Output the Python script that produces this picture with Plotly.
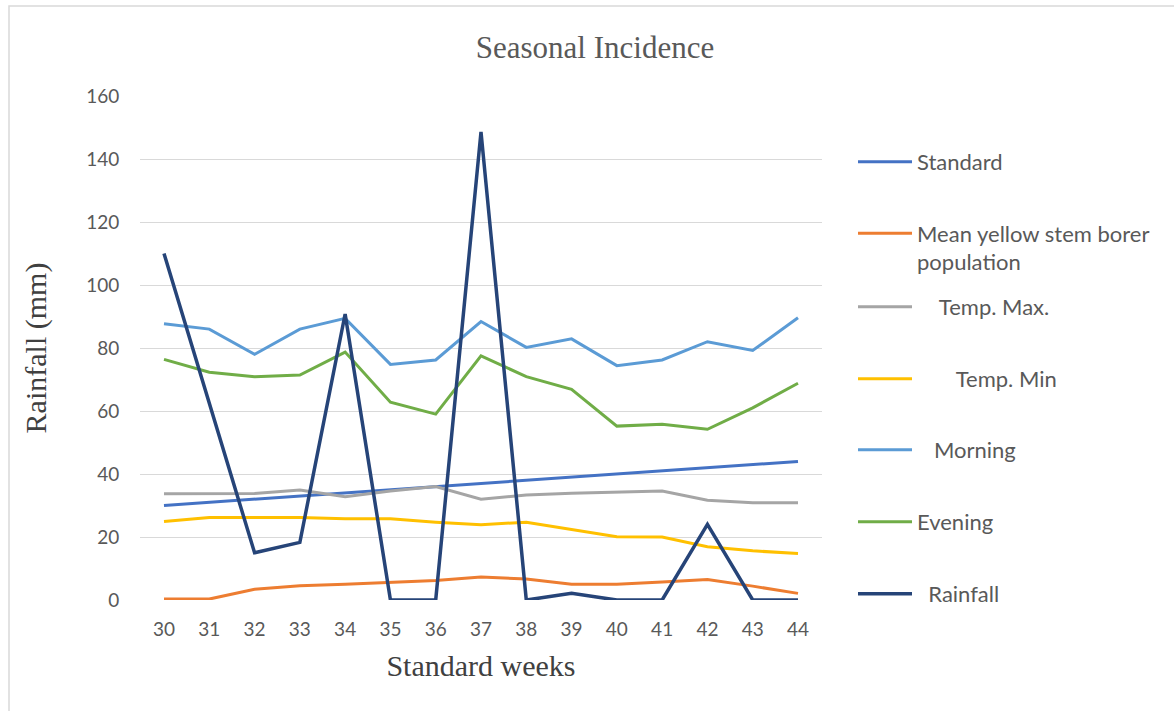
import plotly.graph_objects as go

weeks = list(range(30, 45))
standard = [30, 31, 32, 33, 34, 35, 36, 37, 38, 39, 40, 41, 42, 43, 44]
stem_borer = [0.3, 0.3, 3.4, 4.5, 5.0, 5.5, 6.2, 7.3, 6.7, 5.0, 5.0, 5.7, 6.5, 4.4, 2.1]
temp_max = [33.7, 33.7, 33.8, 34.9, 32.8, 34.6, 36.0, 32.0, 33.3, 33.9, 34.2, 34.6, 31.7, 30.9, 30.9]
temp_min = [24.9, 26.2, 26.2, 26.2, 25.8, 25.8, 24.7, 23.9, 24.7, 22.5, 20.1, 20.0, 16.9, 15.6, 14.8]
morning = [87.7, 86.0, 78.0, 86.0, 89.4, 74.8, 76.2, 88.4, 80.2, 82.9, 74.4, 76.2, 82.0, 79.2, 89.6]
evening = [76.4, 72.3, 70.9, 71.4, 78.7, 62.8, 59.0, 77.5, 70.9, 66.9, 55.2, 55.8, 54.2, 61.0, 68.8]
rainfall = [110.0, 62.5, 15.0, 18.3, 90.8, 0.0, 0.0, 148.6, 0.0, 2.1, 0.0, 0.0, 24.0, 0.0, 0.0]

series_names = ["Standard", "Mean yellow stem borer<br>population", "    Temp. Max.",
                "       Temp. Min", "   Morning", "Evening", "  Rainfall"]
series_values = [standard, stem_borer, temp_max, temp_min, morning, evening, rainfall]
colors = ["#4472C4", "#ED7D31", "#A5A5A5", "#FFC000", "#5B9BD5", "#70AD47", "#264478"]
widths = [3, 3, 3, 3, 3, 3, 3.5]
legend_px_y = [162, 248, 307, 379, 450, 522, 594]

# plot area in pixels
L, R, T, B = 140, 822, 96, 600
W, H = R - L, B - T

fig = go.Figure()
legend_layout = {}
for i, (name, vals, col, w, ly) in enumerate(zip(series_names, series_values, colors, widths, legend_px_y)):
    lg = "legend" if i == 0 else f"legend{i+1}"
    fig.add_trace(go.Scatter(x=weeks, y=vals, mode="lines", name=name,
                             line=dict(color=col, width=w), legend=lg, showlegend=True))
    legend_layout[lg] = dict(
        x=(853 - L) / W, y=(B - ly) / H, xanchor="left", yanchor="middle",
        valign="top", visible=True,
        bgcolor="rgba(0,0,0,0)", itemwidth=54,
        font=dict(family="Lato, 'Open Sans', sans-serif", size=22, color="#595959"),
    )

fig.update_layout(**legend_layout)

fig.update_layout(
    width=1174, height=711, showlegend=True,
    margin=dict(l=L, r=1174 - R, t=T, b=711 - B),
    paper_bgcolor="white", plot_bgcolor="white",
    title=dict(text="Seasonal Incidence", x=(595 - L) / W, xref="paper", xanchor="center",
               y=1 - 47 / 711, yanchor="middle",
               font=dict(family="'Liberation Serif', 'Times New Roman', serif", size=31, color="#595959")),
    xaxis=dict(
        range=[29.47, 44.53], tickmode="array", tickvals=weeks, ticktext=[str(w) for w in weeks],
        showgrid=False, zeroline=False, showline=False,
        ticks="outside", ticklen=12, tickcolor="rgba(0,0,0,0)",
        tickfont=dict(family="Lato, 'Open Sans', sans-serif", size=19, color="#595959"),
        title=dict(text="Standard weeks", standoff=16,
                   font=dict(family="'Liberation Serif', 'Times New Roman', serif", size=30, color="#404040")),
    ),
    yaxis=dict(
        range=[0, 160], tickvals=[0, 20, 40, 60, 80, 100, 120, 140, 160],
        showgrid=True, gridcolor="#D9D9D9", gridwidth=1, zeroline=False, showline=False,
        ticks="outside", ticklen=16, tickcolor="rgba(0,0,0,0)",
        tickfont=dict(family="Lato, 'Open Sans', sans-serif", size=19, color="#595959"),
        title=dict(text="Rainfall (mm)", standoff=30,
                   font=dict(family="'Liberation Serif', 'Times New Roman', serif", size=30, color="#404040")),
    ),
    shapes=[dict(type="rect", xref="paper", yref="paper",
                 x0=(9 - L) / W, x1=(1180 - L) / W, y0=(B - 720) / H, y1=(B - 6) / H,
                 line=dict(color="#D9D9D9", width=1.5), fillcolor="rgba(0,0,0,0)", layer="below")],
)

fig.write_html("out.html", config={"displayModeBar": False},
               post_script="document.body.style.margin='0';document.body.style.overflow='hidden';")
